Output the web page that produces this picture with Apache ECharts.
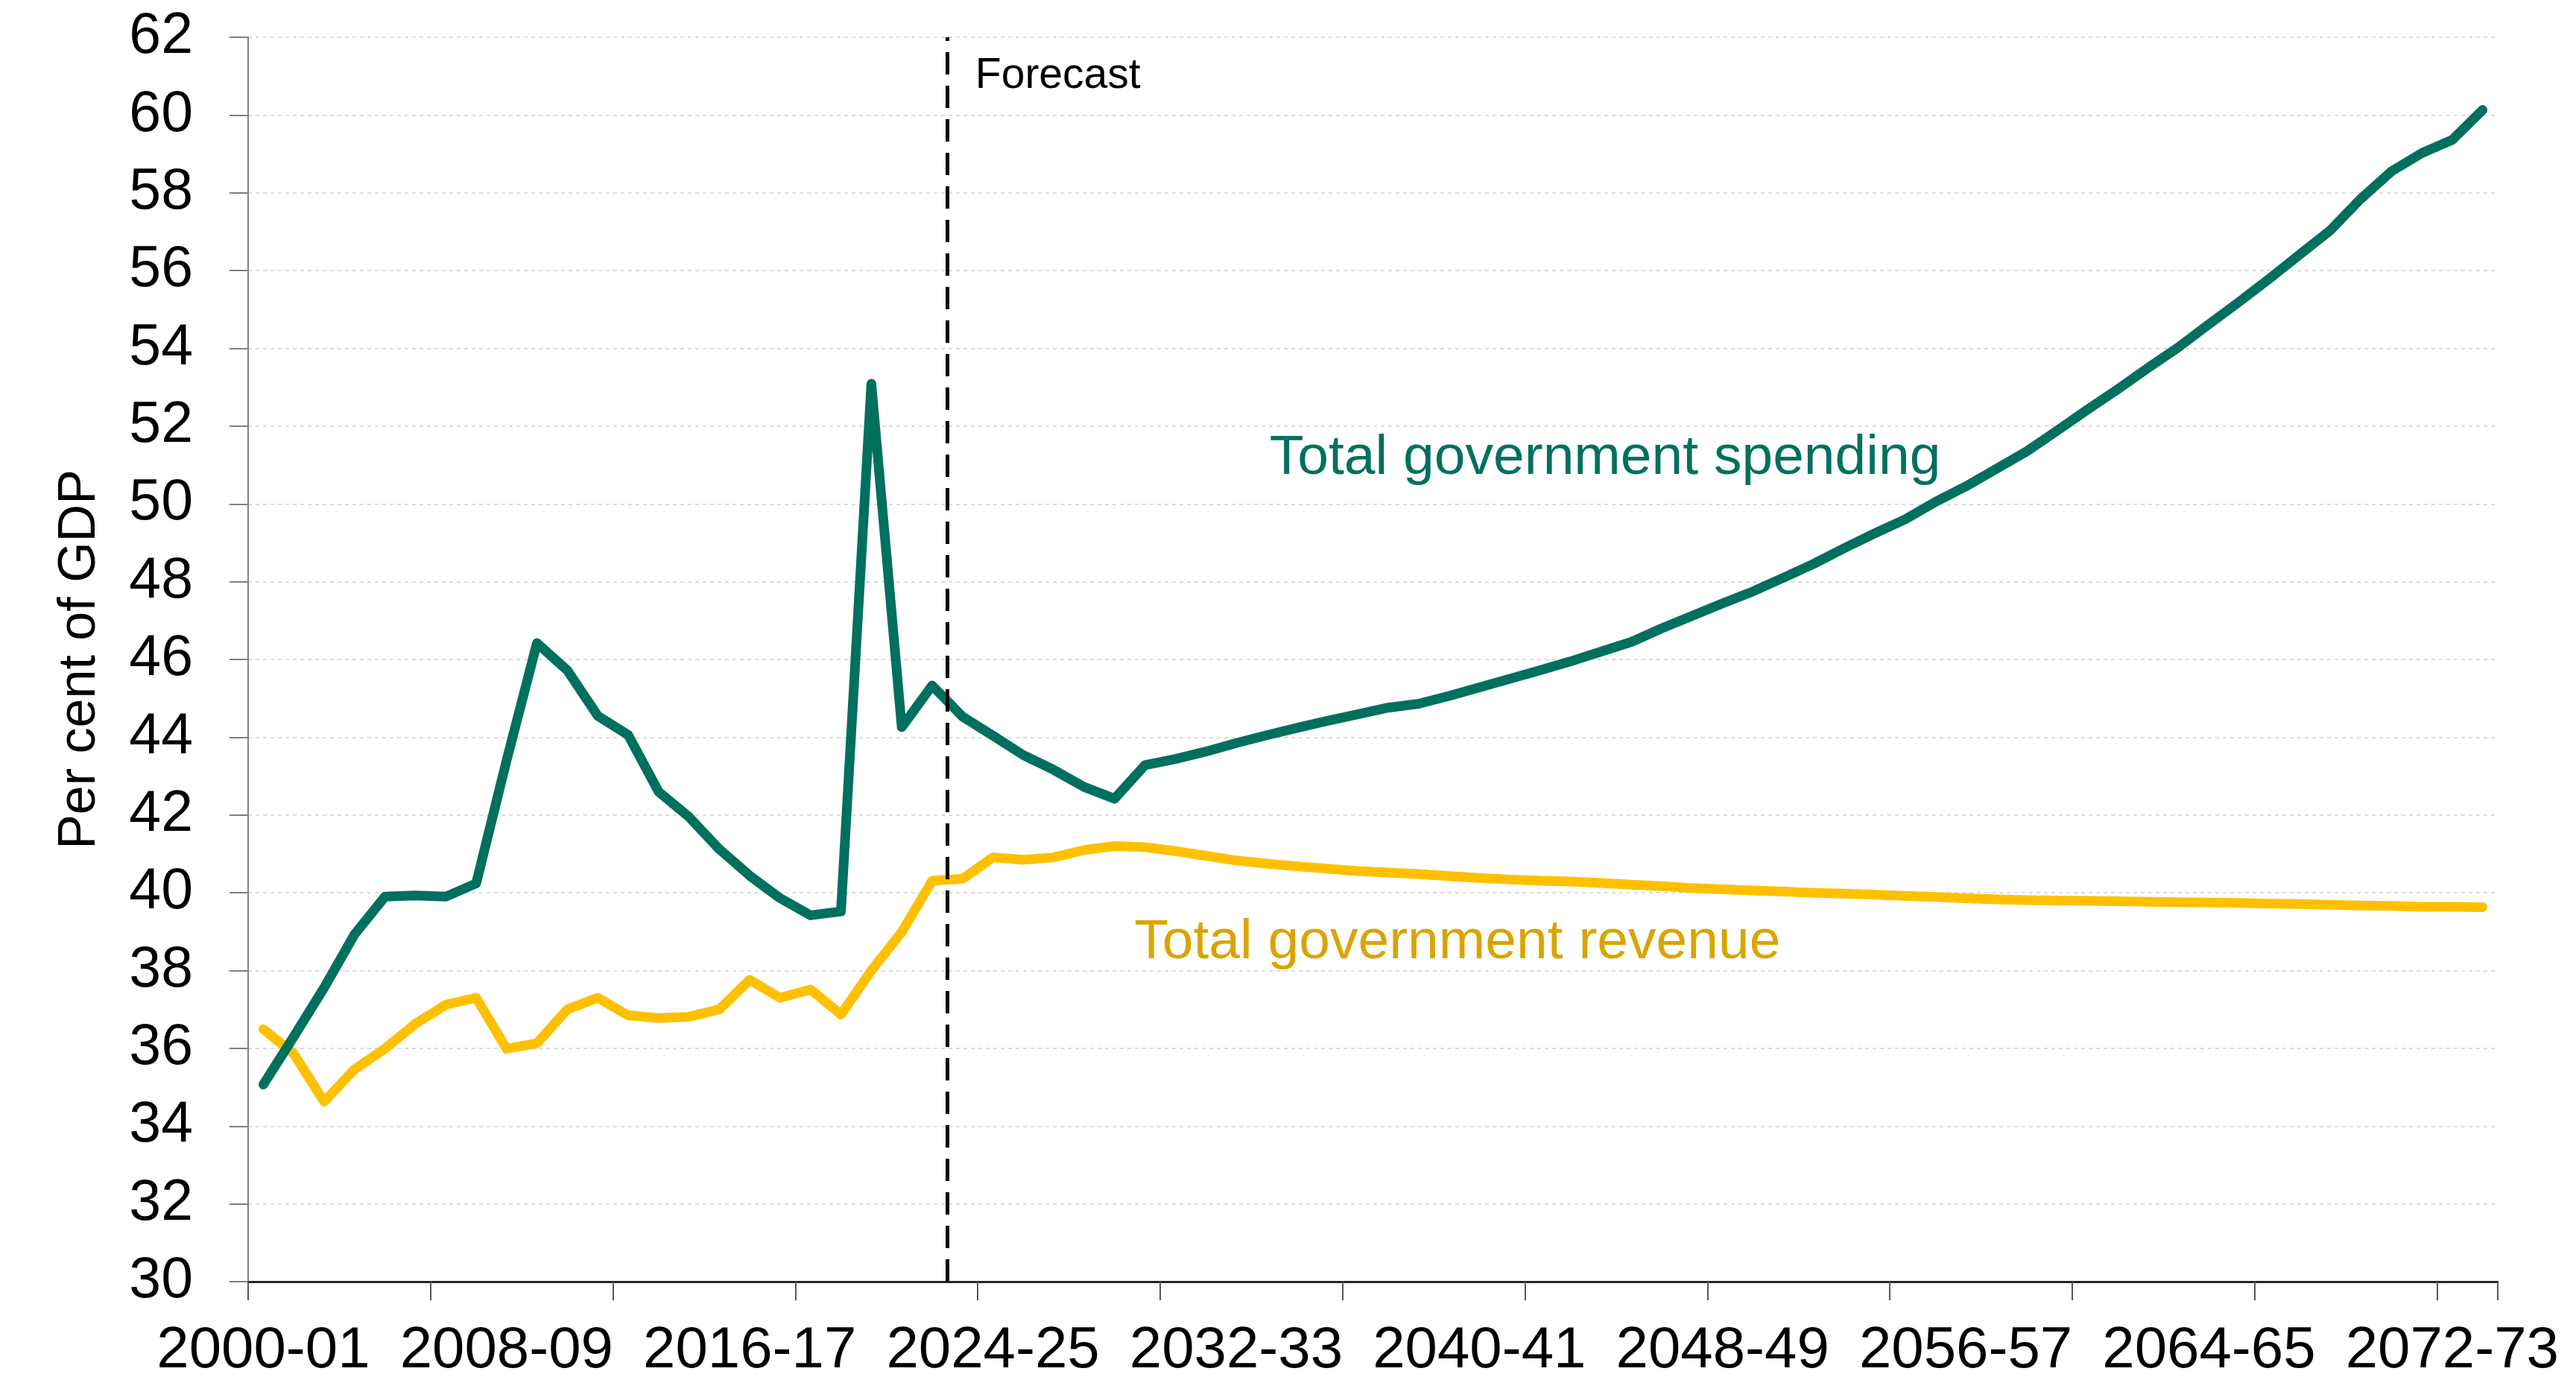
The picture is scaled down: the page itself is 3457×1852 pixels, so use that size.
<!DOCTYPE html>
<html>
<head>
<meta charset="utf-8">
<script src="https://cdn.jsdelivr.net/npm/echarts@6/dist/echarts.min.js"></script>
<style>
html,body{margin:0;padding:0;background:#fff;}
#c{width:3457px;height:1852px;}
</style>
</head>
<body>
<div id="c"></div>
<script>
// Fiscal years 2000-01 .. 2073-74
const startYears = [];
for (let y = 2000; y <= 2073; y++) startYears.push(y);
const categories = startYears.map(y => y + '-' + String((y + 1) % 100).padStart(2, '0'));

const spending = [
  35.07, 36.30, 37.56, 38.93, 39.90, 39.93, 39.90, 40.24, 43.40, 46.42,
  45.72, 44.55, 44.06, 42.60, 41.95, 41.12, 40.44, 39.86, 39.42, 39.52,
  53.09, 44.26, 45.33, 44.53, 44.04, 43.54, 43.16, 42.72, 42.42, 43.28,
  43.44, 43.63, 43.85, 44.05, 44.24, 44.42, 44.59, 44.76, 44.86, 45.06,
  45.28, 45.50, 45.72, 45.95, 46.20, 46.45, 46.80, 47.12, 47.44, 47.75,
  48.10, 48.46, 48.86, 49.24, 49.60, 50.05, 50.45, 50.90, 51.35, 51.88,
  52.42, 52.95, 53.50, 54.03, 54.62, 55.20, 55.80, 56.42, 57.04, 57.85,
  58.55, 59.02, 59.36, 60.13
];

const revenue = [
  36.49, 35.86, 34.63, 35.46, 35.99, 36.63, 37.12, 37.30, 35.99, 36.13,
  37.00, 37.30, 36.85, 36.78, 36.81, 37.00, 37.76, 37.30, 37.51, 36.87,
  38.00, 38.99, 40.31, 40.36, 40.91, 40.85, 40.91, 41.10, 41.20, 41.17,
  41.07, 40.95, 40.83, 40.75, 40.68, 40.62, 40.56, 40.52, 40.48, 40.43,
  40.38, 40.34, 40.31, 40.29, 40.25, 40.21, 40.17, 40.12, 40.09, 40.06,
  40.03, 40.00, 39.98, 39.95, 39.92, 39.89, 39.86, 39.83, 39.81, 39.80,
  39.79, 39.78, 39.77, 39.76, 39.75, 39.74, 39.72, 39.71, 39.69, 39.67,
  39.66, 39.64, 39.64, 39.63
];

const yTicks = { min: 30, max: 62, interval: 2 };
const forecastBoundary = 23; // boundary before 2023-24 (in category units)

const FONT = "'Liberation Sans', Arial, sans-serif";
const TEAL = '#00705E';
const GOLD = '#FFC000';
const GOLD_TEXT = '#D9A400';

const chart = echarts.init(document.getElementById('c'), null, { renderer: 'canvas' });

const option = {
  backgroundColor: '#ffffff',
  animation: false,
  grid: { left: 333, right: 105, top: 50, bottom: 129, containLabel: false },
  xAxis: [
    {
      type: 'category',
      data: categories,
      boundaryGap: true,
      axisLine: { show: true, lineStyle: { color: '#262626', width: 3 } },
      axisTick: { show: true, interval: 5, length: 25, lineStyle: { color: '#595959', width: 2 } },
      axisLabel: { interval: 7, margin: 54, color: '#000', fontSize: 78, fontFamily: FONT },
      splitLine: { show: false }
    },
    {
      type: 'value',
      min: 0,
      max: categories.length,
      show: false
    }
  ],
  yAxis: {
    type: 'value',
    min: yTicks.min,
    max: yTicks.max,
    interval: yTicks.interval,
    name: 'Per cent of GDP',
    nameLocation: 'middle',
    nameRotate: 90,
    nameGap: 190,
    nameTextStyle: { color: '#000', fontSize: 70, fontFamily: FONT },
    axisLine: { show: true, lineStyle: { color: '#7f7f7f', width: 2 } },
    axisTick: { show: true, length: 25, lineStyle: { color: '#7f7f7f', width: 2 } },
    axisLabel: { margin: 74, color: '#000', fontSize: 77, fontFamily: FONT },
    splitLine: { show: true, lineStyle: { color: '#dcdcdc', width: 2, type: [5, 5] } }
  },
  series: [
    {
      name: 'Total government revenue',
      type: 'line',
      data: revenue,
      showSymbol: false,
      symbol: 'none',
      lineStyle: { color: GOLD, width: 13, cap: 'round', join: 'round' },
      z: 2
    },
    {
      name: 'Total government spending',
      type: 'line',
      data: spending,
      showSymbol: false,
      symbol: 'none',
      lineStyle: { color: TEAL, width: 13, cap: 'round', join: 'round' },
      z: 3
    },
    {
      name: 'forecast',
      type: 'line',
      xAxisIndex: 1,
      yAxisIndex: 0,
      data: [],
      z: 5,
      markLine: {
        silent: true,
        symbol: 'none',
        label: { show: false },
        lineStyle: { color: '#000', width: 5, type: [30, 15] },
        data: [{ xAxis: forecastBoundary }]
      }
    }
  ]
};
chart.setOption(option);

// Annotations positioned in data space
const annotations = [
  { text: 'Forecast', at: [23.92, 61.0], size: 57, color: '#000' },
  { text: 'Total government spending', at: [33.6, 51.17], size: 75, color: TEAL },
  { text: 'Total government revenue', at: [29.15, 38.72], size: 75, color: GOLD_TEXT }
];
const graphics = annotations.map(a => {
  const p = chart.convertToPixel({ xAxisIndex: 1, yAxisIndex: 0 }, a.at);
  return {
    type: 'text',
    x: p[0],
    y: p[1],
    z: 10,
    style: {
      text: a.text,
      fill: a.color,
      font: a.size + 'px ' + FONT,
      textAlign: 'left',
      textVerticalAlign: 'middle',
      verticalAlign: 'middle'
    }
  };
});
chart.setOption({ graphic: graphics });
</script>
</body>
</html>
